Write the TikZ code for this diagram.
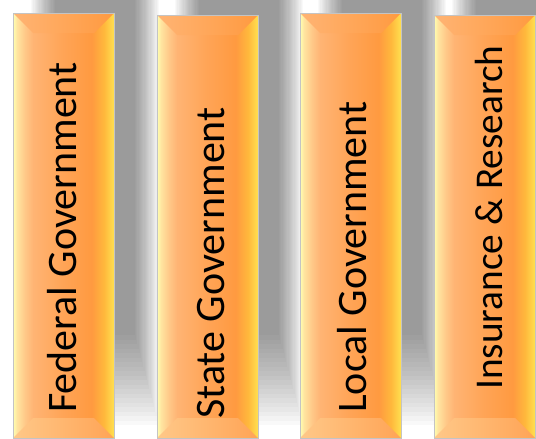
\documentclass[tikz,border=0pt]{standalone}
\usepackage{fontspec}
\setmainfont{Carlito}
\definecolor{barYellow}{HTML}{FFFFB0}
\definecolor{barPale}{HTML}{FFE4A0}
\definecolor{barLight}{HTML}{FFC888}
\definecolor{barPeach}{HTML}{FFB474}
\definecolor{barMid}{HTML}{FFA456}
\definecolor{barDeep}{HTML}{FF9A40}
\definecolor{barAmber}{HTML}{FFB83C}
\definecolor{barGold}{HTML}{FFE050}
\definecolor{barLine}{HTML}{C4C4C4}
\pgfdeclarehorizontalshading{barshade}{100bp}{color(0bp)=(barYellow); color(25bp)=(barYellow);
  color(27bp)=(barPale); color(31bp)=(barLight); color(35bp)=(barPeach); color(50bp)=(barMid);
  color(64bp)=(barDeep); color(70bp)=(barAmber); color(75bp)=(barGold); color(100bp)=(barGold)}
\begin{document}
\begin{tikzpicture}[x=0.75pt,y=-0.75pt,
  shadowgrey/.style={fill=black,opacity=0.022},
  barline/.style={draw=barLine,line width=0.6pt},
  bartext/.style={rotate=90,anchor=base west,inner sep=0pt,font=\fontsize{31.5}{38}\selectfont}]
\useasboundingbox (0,0) rectangle (536,439);
\clip (0,0) rectangle (536,439);
% shadows
\foreach \x in {13,157,300,434}
  \foreach \k in {0,...,20}
    \fill[shadowgrey] (\x+18+1.2*\k,-20) rectangle (\x+146-1.2*\k,425-4.5*\k);
% bars
\foreach \x/\t in {13/13,157/15,300/13,434/15} {
  \shade[shading=barshade] (\x,\t) rectangle (\x+101,438);
  \shade[left color=barPeach,right color=barDeep] (\x,\t) -- (\x+101,\t) -- (\x+81,\t+20) -- (\x+20,\t+20) -- cycle;
  \shade[left color=barLight,right color=barMid] (\x,438) -- (\x+101,438) -- (\x+81,418) -- (\x+20,418) -- cycle;
  \draw[barline] (\x,\t) rectangle (\x+101,438);
}
\node[bartext] (federal) at (76,413) {Federal Government};
\node[bartext] (state) at (224,419) {State Government};
\node[bartext] (local) at (366,413) {Local Government};
\node[bartext,font=\fontsize{29.5}{35}\selectfont] (research) at (502,390) {Insurance \& Research};
\end{tikzpicture}
\end{document}
